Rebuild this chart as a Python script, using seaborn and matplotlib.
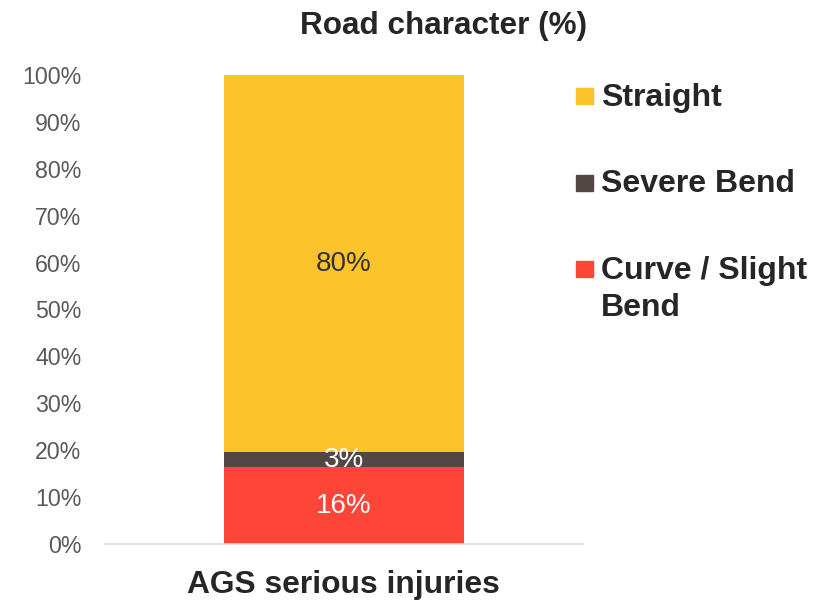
import matplotlib
matplotlib.use("Agg")
import matplotlib.pyplot as plt
import seaborn as sns
import pandas as pd
import numpy as np
from matplotlib.patches import Rectangle

category = ["AGS serious injuries"]
series_names = ["Curve / Slight Bend", "Severe Bend", "Straight"]
values = [16.4, 3.2, 80.4]
value_labels = ["16%", "3%", "80%"]
colors = ["#FF4538", "#524745", "#FCC42A"]
label_colors = ["white", "white", "#333333"]
yticks = [0, 10, 20, 30, 40, 50, 60, 70, 80, 90, 100]
ytick_labels = [f"{t}%" for t in yticks]
title = "Road character (%)"

sns.set_theme(style="white")
plt.rcParams["font.family"] = ["Liberation Sans", "DejaVu Sans"]

fig = plt.figure(figsize=(8.14, 6.0), dpi=100)
ax = fig.add_axes([105/814, 1-544/600, (583-105)/814, (544-75)/600])

cum = np.cumsum(values)
# draw from top (total) down so each layer shows
for i in reversed(range(len(values))):
    df = pd.DataFrame({"cat": category, "val": [cum[i]]})
    sns.barplot(data=df, x="cat", y="val", color=colors[i], width=0.504,
                saturation=1, ax=ax, edgecolor="none", linewidth=0)

bottoms = np.concatenate([[0], cum[:-1]])
for i in range(len(values)):
    ax.text(0, bottoms[i] + values[i] / 2, value_labels[i], ha="center", va="center",
            fontsize=20, color=label_colors[i])

ax.set_xlim(-0.5, 0.5)
ax.set_ylim(0, 100)
ax.set_yticks(yticks)
ax.set_yticklabels(ytick_labels, fontsize=16.7, color="#595959")
ax.tick_params(axis="y", length=0, pad=17)
ax.tick_params(axis="x", length=0)
ax.set_xticks([])
ax.set_xlabel("")
ax.set_ylabel("")
for s in ["top", "right", "left"]:
    ax.spines[s].set_visible(False)
ax.spines["bottom"].set_color("#D9D9D9")
ax.spines["bottom"].set_linewidth(1.2)

fig.text(343/814, 1-593/600, category[0], ha="center", va="baseline",
         fontsize=22.9, fontweight="bold", color="#262626")
fig.text(444/814, 1-34/600, title, ha="center", va="baseline",
         fontsize=22.7, fontweight="bold", color="#262626")

# legend (drawn as squares + text lines)
legend_items = [("Straight", colors[2], 106, [106]),
                ("Severe Bend", colors[1], 192.5, [192.5]),
                ("Curve / Slight\nBend", colors[0], 279, [279, 316])]
for text, col, base, line_bases in legend_items:
    fig.patches.append(Rectangle((576/814, 1-(base-2)/600), 17/814, 16/600,
                                 transform=fig.transFigure, color=col, figure=fig))
    for line, lb in zip(text.split("\n"), line_bases):
        fig.text(601/814, 1-lb/600, line, ha="left", va="baseline", fontsize=23,
                 fontweight="bold", color="#262626")

fig.savefig("out.png", dpi=100)
